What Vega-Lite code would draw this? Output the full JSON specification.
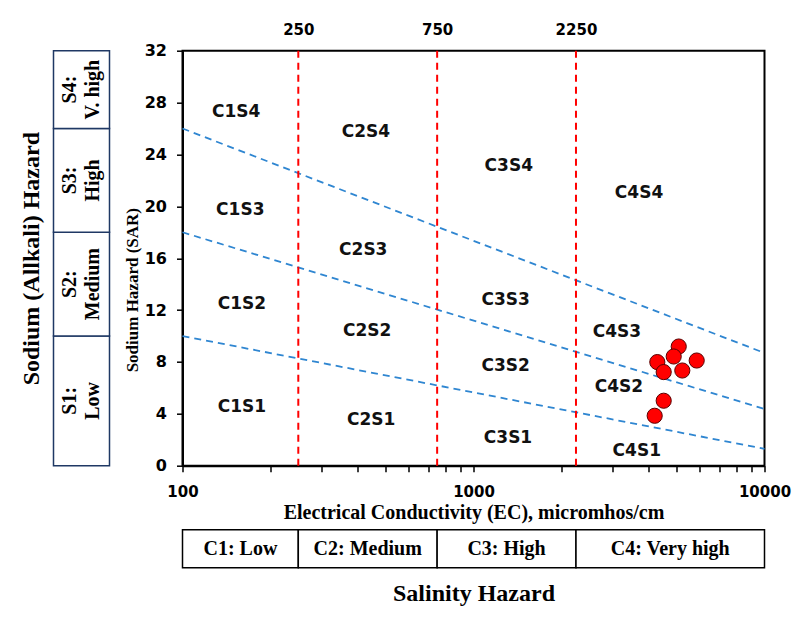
{
  "$schema": "https://vega.github.io/schema/vega-lite/v6.json",
  "autosize": {"type": "none"},
  "padding": {"left": 53.5, "top": 50.7, "right": 748.5, "bottom": 570.3},
  "background": "white",
  "columns": 2,
  "bounds": "flush",
  "spacing": {"row": 64, "column": 73},
  "datasets": {
    "sodiumClasses": [
      {"cls": "S1", "lo": 0, "hi": 10, "label": ["S1:", "Low"]},
      {"cls": "S2", "lo": 10, "hi": 18, "label": ["S2:", "Medium"]},
      {"cls": "S3", "lo": 18, "hi": 26, "label": ["S3:", "High"]},
      {"cls": "S4", "lo": 26, "hi": 32, "label": ["S4:", "V. high"]}
    ],
    "salinityClasses": [
      {"cls": "C1", "lo": 100, "hi": 250, "label": "C1: Low"},
      {"cls": "C2", "lo": 250, "hi": 750, "label": "C2: Medium"},
      {"cls": "C3", "lo": 750, "hi": 2250, "label": "C3: High"},
      {"cls": "C4", "lo": 2250, "hi": 10000, "label": "C4: Very high"}
    ],
    "boundaries": [{"ec": 250}, {"ec": 750}, {"ec": 2250}],
    "sarLines": [
      {"boundary": "S1/S2", "ec": 100, "sar": 10},
      {"boundary": "S1/S2", "ec": 10000, "sar": 1.3},
      {"boundary": "S2/S3", "ec": 100, "sar": 18},
      {"boundary": "S2/S3", "ec": 10000, "sar": 4.37},
      {"boundary": "S3/S4", "ec": 100, "sar": 26},
      {"boundary": "S3/S4", "ec": 10000, "sar": 8.69}
    ],
    "zones": [
      {"zone": "C1S4", "ec": 153, "sar": 27.3},
      {"zone": "C2S4", "ec": 427, "sar": 25.7},
      {"zone": "C1S3", "ec": 158, "sar": 19.75},
      {"zone": "C2S3", "ec": 418, "sar": 16.66},
      {"zone": "C1S2", "ec": 160, "sar": 12.5},
      {"zone": "C2S2", "ec": 431, "sar": 10.4},
      {"zone": "C1S1", "ec": 160, "sar": 4.56},
      {"zone": "C2S1", "ec": 445, "sar": 3.54},
      {"zone": "C3S4", "ec": 1322, "sar": 23.1},
      {"zone": "C3S3", "ec": 1290, "sar": 12.8},
      {"zone": "C3S2", "ec": 1290, "sar": 7.68},
      {"zone": "C3S1", "ec": 1314, "sar": 2.14},
      {"zone": "C4S4", "ec": 3705, "sar": 21.0},
      {"zone": "C4S3", "ec": 3112, "sar": 10.3},
      {"zone": "C4S2", "ec": 3162, "sar": 6.05},
      {"zone": "C4S1", "ec": 3640, "sar": 1.1}
    ],
    "samples": [
      {"ec": 5073, "sar": 9.19},
      {"ec": 4282, "sar": 7.99},
      {"ec": 4875, "sar": 8.42},
      {"ec": 5848, "sar": 8.11},
      {"ec": 5218, "sar": 7.34},
      {"ec": 4504, "sar": 7.22},
      {"ec": 4194, "sar": 3.85},
      {"ec": 4504, "sar": 5.01}
    ]
  },
  "concat": [
    {
      "width": 56,
      "height": 415,
      "view": {"stroke": null},
      "data": {"name": "sodiumClasses"},
      "transform": [{"calculate": "(datum.lo + datum.hi) / 2", "as": "mid"}],
      "layer": [
        {
          "mark": {"type": "rect", "fill": "white", "stroke": "#1F3864", "strokeWidth": 1.5},
          "encoding": {
            "y": {
              "field": "lo", "type": "quantitative",
              "scale": {"domain": [0, 32], "nice": false},
              "axis": {
                "title": "Sodium (Allkali) Hazard", "labels": false, "ticks": false, "domain": false, "grid": false,
                "titleFont": "Liberation Serif", "titleFontSize": 24, "titleFontWeight": "bold", "titleColor": "#000", "titlePadding": 10
              }
            },
            "y2": {"field": "hi"}
          }
        },
        {
          "mark": {"type": "text", "angle": 270, "font": "Liberation Serif", "fontSize": 20, "fontWeight": "bold", "lineHeight": 23, "align": "center", "baseline": "middle", "dy": -12, "color": "#000"},
          "encoding": {
            "y": {"field": "mid", "type": "quantitative", "scale": {"domain": [0, 32], "nice": false}},
            "text": {"field": "label"}
          }
        }
      ]
    },
    {
      "width": 582,
      "height": 415,
      "resolve": {"axis": {"x": "independent"}},
      "layer": [
        {
          "data": {"name": "sarLines"},
          "mark": {"type": "line", "color": "#2F86D1", "strokeDash": [7, 5], "strokeWidth": 1.8},
          "encoding": {
            "x": {
              "field": "ec", "type": "quantitative",
              "scale": {"type": "log", "domain": [100, 10000], "nice": false},
              "axis": {
                "orient": "bottom",
                "title": "Electrical Conductivity (EC), micromhos/cm",
                "values": [100, 200, 300, 400, 500, 600, 700, 800, 900, 1000, 2000, 3000, 4000, 5000, 6000, 7000, 8000, 9000, 10000],
                "format": "d",
                "labelExpr": "datum.value == 100 || datum.value == 1000 || datum.value == 10000 ? datum.label : ''",
                "labelFlush": false, "labelOverlap": false, "grid": false,
                "tickSize": 6, "tickWidth": 1.5, "tickColor": "#000",
                "domainColor": "#000", "domainWidth": 2,
                "labelFont": "DejaVu Sans", "labelFontSize": 15, "labelFontWeight": "bold", "labelColor": "#000", "labelPadding": 13,
                "titleFont": "Liberation Serif", "titleFontSize": 20, "titleFontWeight": "bold", "titleColor": "#000", "titlePadding": 3
              }
            },
            "y": {
              "field": "sar", "type": "quantitative",
              "scale": {"domain": [0, 32], "nice": false},
              "axis": {
                "title": "Sodium Hazard (SAR)",
                "values": [0, 2, 4, 6, 8, 10, 12, 14, 16, 18, 20, 22, 24, 26, 28, 30, 32],
                "labelExpr": "datum.value % 4 === 0 ? datum.label : ''",
                "labelFlush": false, "labelOverlap": false, "grid": false,
                "tickSize": 6, "tickWidth": 1.5, "tickColor": "#000",
                "domainColor": "#000", "domainWidth": 2,
                "labelFont": "DejaVu Sans", "labelFontSize": 16, "labelFontWeight": "bold", "labelColor": "#000", "labelPadding": 10,
                "titleFont": "Liberation Serif", "titleFontSize": 17, "titleFontWeight": "bold", "titleColor": "#000", "titlePadding": 3,
                "titleY": 239
              }
            },
            "detail": {"field": "boundary"}
          }
        },
        {
          "data": {"name": "boundaries"},
          "mark": {"type": "rule", "color": "#FF0000", "strokeDash": [7, 5], "strokeWidth": 2},
          "encoding": {
            "x": {
              "field": "ec", "type": "quantitative",
              "scale": {"type": "log", "domain": [100, 10000], "nice": false},
              "axis": {
                "orient": "top", "title": null, "values": [250, 750, 2250], "format": "d",
                "ticks": false, "tickSize": 0, "domain": false, "grid": false, "labelFlush": false,
                "labelFont": "DejaVu Sans", "labelFontSize": 15, "labelFontWeight": "bold", "labelColor": "#000", "labelPadding": 13
              }
            }
          }
        },
        {
          "data": {"name": "zones"},
          "mark": {"type": "text", "font": "DejaVu Sans", "fontSize": 17, "fontWeight": "bold", "color": "#111", "align": "center", "baseline": "middle"},
          "encoding": {
            "x": {"field": "ec", "type": "quantitative", "scale": {"type": "log", "domain": [100, 10000], "nice": false}, "axis": null},
            "y": {"field": "sar", "type": "quantitative", "scale": {"domain": [0, 32], "nice": false}},
            "text": {"field": "zone"}
          }
        },
        {
          "data": {"name": "samples"},
          "mark": {"type": "point", "shape": "circle", "filled": true, "fill": "#FF0000", "stroke": "#5A0000", "strokeWidth": 1, "size": 230, "opacity": 1},
          "encoding": {
            "x": {"field": "ec", "type": "quantitative", "scale": {"type": "log", "domain": [100, 10000], "nice": false}, "axis": null},
            "y": {"field": "sar", "type": "quantitative", "scale": {"domain": [0, 32], "nice": false}}
          }
        }
      ]
    },
    {
      "width": 56,
      "height": 38,
      "view": {"stroke": null},
      "data": {"values": [{}]},
      "mark": {"type": "text"},
      "encoding": {"text": {"value": ""}}
    },
    {
      "width": 582,
      "height": 38,
      "view": {"stroke": null},
      "data": {"name": "salinityClasses"},
      "transform": [{"calculate": "sqrt(datum.lo * datum.hi)", "as": "mid"}],
      "layer": [
        {
          "mark": {"type": "rect", "fill": "white", "stroke": "#000", "strokeWidth": 1.5},
          "encoding": {
            "x": {
              "field": "lo", "type": "quantitative",
              "scale": {"type": "log", "domain": [100, 10000], "nice": false},
              "axis": {
                "orient": "bottom", "title": "Salinity Hazard", "labels": false, "ticks": false, "domain": false, "grid": false,
                "titleFont": "Liberation Serif", "titleFontSize": 24, "titleFontWeight": "bold", "titleColor": "#000", "titlePadding": 14
              }
            },
            "x2": {"field": "hi"}
          }
        },
        {
          "mark": {"type": "text", "font": "Liberation Serif", "fontSize": 20, "fontWeight": "bold", "align": "center", "baseline": "middle", "color": "#000"},
          "encoding": {
            "x": {"field": "mid", "type": "quantitative", "scale": {"type": "log", "domain": [100, 10000], "nice": false}},
            "text": {"field": "label"}
          }
        }
      ]
    }
  ],
  "config": {
    "view": {"stroke": "#000", "strokeWidth": 2},
    "font": "DejaVu Sans"
  }
}
